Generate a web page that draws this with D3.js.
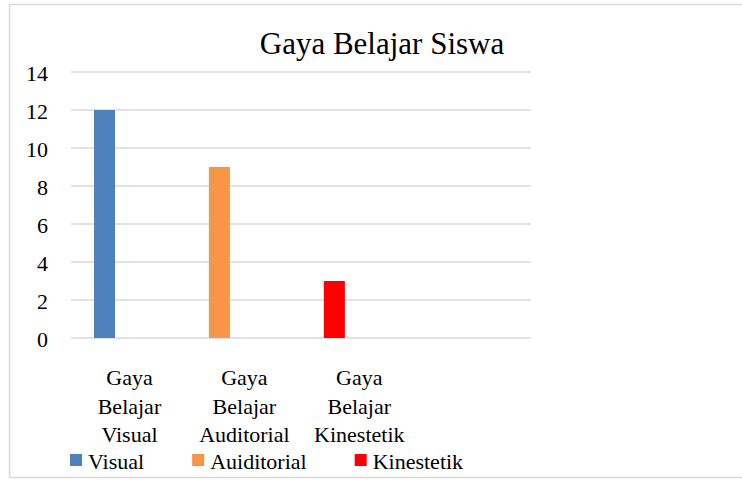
<!DOCTYPE html>
<html>
<head>
<meta charset="utf-8">
<script src="https://cdn.jsdelivr.net/npm/d3@7"></script>
</head>
<body style="margin:0">
<svg id="chart" width="742" height="480">
<text id="title" x="382" y="54" text-anchor="middle" style="font-family:'Liberation Serif';font-size:31px">Gaya Belajar Siswa</text>
</svg>
<script>
// data
const categories = ["Gaya Belajar Visual", "Gaya Belajar Auditorial", "Gaya Belajar Kinestetik", ""];
const seriesNames = ["Visual", "Auiditorial", "Kinestetik"];
const seriesValues = [12, 9, 3];
const seriesColors = ["#4F81BD", "#F79646", "#FF0000"];
const yTicks = [0, 2, 4, 6, 8, 10, 12, 14];

const FONT = "Liberation Serif";

var svg = d3.select("#chart");

// outer frame (right side runs off the picture)
svg.insert("rect", "#title")
	.attr("x", 9.5)
	.attr("y", 4.5)
	.attr("width", 760)
	.attr("height", 473)
	.attr("fill", "none")
	.attr("stroke", "#d9d9d9")
	.attr("stroke-width", 1.5);

// scales
const x = d3.scaleBand()
	.domain(categories)
	.range([71, 530.7]);
const y = d3.scaleLinear()
	.domain([0, 14])
	.range([338, 72]);

// gridlines
svg.append("g")
	.selectAll("line")
	.data(yTicks)
	.enter().append("line")
		.attr("x1", x.range()[0])
		.attr("x2", x.range()[1])
		.attr("y1", d => y(d))
		.attr("y2", d => y(d))
		.attr("stroke", "#d9d9d9")
		.attr("stroke-width", 1.5);

// y axis labels
const yAxis = d3.axisLeft(y).tickValues(yTicks).tickSize(0).tickPadding(0);
svg.append("g")
	.attr("transform", "translate(48,1)")
	.call(yAxis)
	.call(g => g.select(".domain").remove())
	.attr("font-family", null)
	.attr("font-size", null)
	.selectAll("text")
		.style("font-family", FONT)
		.style("font-size", "22px")
		.attr("fill", "#000");

// bars: each series holds its value in its own category, drawn in the first slot of the cluster
const bw = x.bandwidth();
svg.append("g")
	.selectAll("rect")
	.data(seriesValues)
	.enter().append("rect")
		.attr("x", (d, i) => x(categories[i]) + bw * 0.2)
		.attr("width", bw * 0.183)
		.attr("y", d => y(d))
		.attr("height", d => y(0) - y(d))
		.attr("fill", (d, i) => seriesColors[i]);

// category labels, wrapped like the original
const catG = svg.append("g");
categories.forEach(function(c) {
	if (!c) return;
	const words = c.split(" ");
	const t = catG.append("text")
		.attr("text-anchor", "middle")
		.style("font-family", FONT)
		.style("font-size", "22px");
	words.forEach(function(w, j) {
		t.append("tspan")
			.attr("x", x(c) + bw / 2 + 1)
			.attr("y", 385 + j * 28.5)
			.text(w);
	});
});

// legend
const legend = svg.append("g");
let lx = 70;
seriesNames.forEach(function(s, i) {
	legend.append("rect")
		.attr("x", lx)
		.attr("y", 454)
		.attr("width", 12)
		.attr("height", 12)
		.attr("fill", seriesColors[i]);
	const t = legend.append("text")
		.attr("x", lx + 18)
		.attr("y", 469)
		.style("font-family", FONT)
		.style("font-size", "22px")
		.text(s);
	lx += 18 + t.node().getComputedTextLength() + 48;
});
</script>
</body>
</html>
